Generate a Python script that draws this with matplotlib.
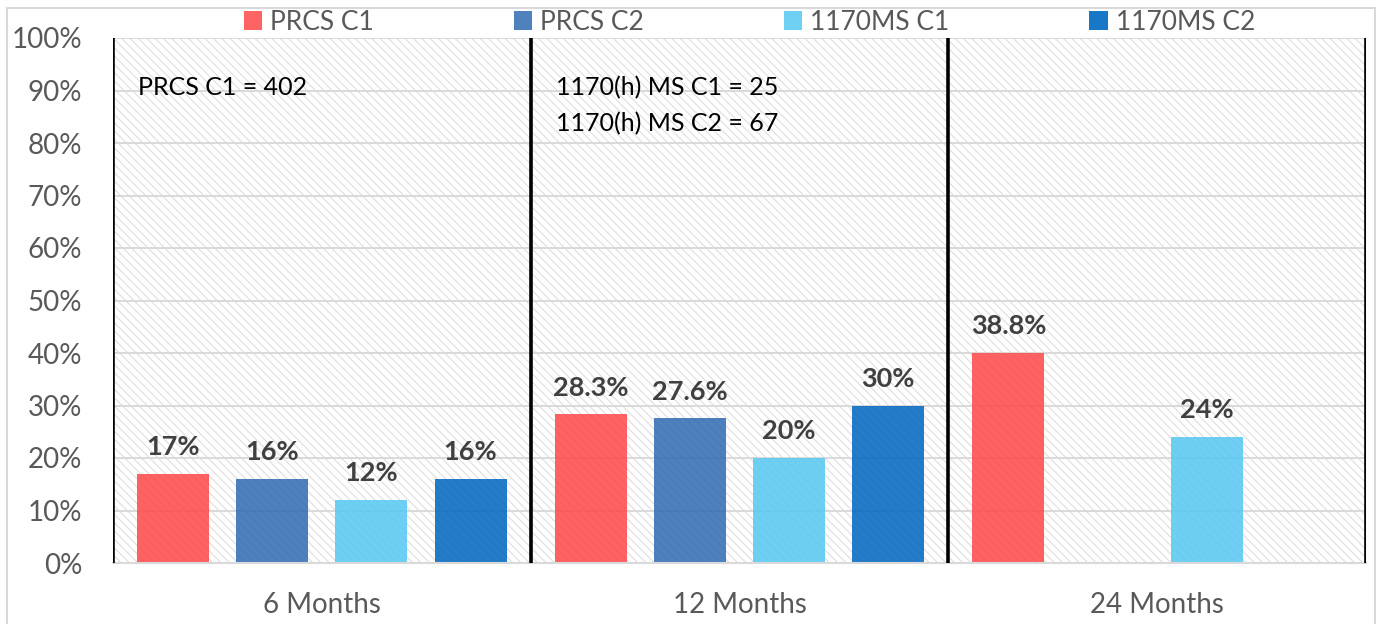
import matplotlib
matplotlib.use("Agg")
import matplotlib.pyplot as plt
from matplotlib.patches import Rectangle, Patch
import numpy as np

plt.rcParams['font.family'] = ['Lato', 'DejaVu Sans']
plt.rcParams['hatch.linewidth'] = 0.75

categories = ['6 Months', '12 Months', '24 Months']
series = ['PRCS C1', 'PRCS C2', '1170MS C1', '1170MS C2']
prcs_c1 = [17, 28.3, 40]
prcs_c2 = [16, 27.6, np.nan]
ms_c1 = [12, 20, 24]
ms_c2 = [16, 30, np.nan]
prcs_c1_labels = ['17%', '28.3%', '38.8%']
prcs_c2_labels = ['16%', '27.6%', '']
ms_c1_labels = ['12%', '20%', '24%']
ms_c2_labels = ['16%', '30%', '']
yticks = [0, 10, 20, 30, 40, 50, 60, 70, 80, 90, 100]
ytick_labels = ['0%', '10%', '20%', '30%', '40%', '50%', '60%', '70%', '80%', '90%', '100%']
note_left = 'PRCS C1 = 402'
note_mid = ['1170(h) MS C1 = 25', '1170(h) MS C2 = 67']

values = [prcs_c1, prcs_c2, ms_c1, ms_c2]
labels = [prcs_c1_labels, prcs_c2_labels, ms_c1_labels, ms_c2_labels]
colors = ['#FF4848', '#306BB2', '#56C8F1', '#0066BF']
legend_colors = ['#FF6464', '#4F81BD', '#6FD0F3', '#1878C6']
alpha = 0.86

W, H = 1382, 624
fig = plt.figure(figsize=(W / 100, H / 100), dpi=100)
ax = fig.add_axes([113 / W, (H - 563) / H, (1366 - 113) / W, (563 - 38) / H])

# figure frame
fig.patches.append(Rectangle((7 / W, -0.02), (1375 - 7) / W, (H - 8) / H + 0.02,
                             transform=fig.transFigure, fill=False,
                             edgecolor='#D9D9D9', linewidth=1.5, zorder=0))

ax.set_xlim(-0.5, 2.5)
ax.set_ylim(0, 100)

# hatched background
ax.add_patch(Rectangle((-0.5, 0), 3, 100, facecolor='white', edgecolor='#DCDCDC',
                       linewidth=0, hatch='\\\\\\\\', zorder=0.5))

for y in yticks:
    ax.axhline(y, color='#D9D9D9', linewidth=1.4, zorder=1)

for xv in [-0.5, 0.5, 1.5, 2.5]:
    ax.axvline(xv, color='black', linewidth=2.6, zorder=3)

x = np.arange(len(categories))
bw = 72 / 417
step = 99 / 417
offsets = [-1.5 * step, -0.5 * step, 0.5 * step, 1.5 * step]
for i in range(4):
    vals = np.array(values[i], dtype=float)
    ax.bar(x + offsets[i], vals, width=bw, color=colors[i], alpha=alpha,
           zorder=2, linewidth=0)
    for xi, v, lab in zip(x + offsets[i], vals, labels[i]):
        if np.isnan(v) or not lab:
            continue
        ax.annotate(lab, (xi, v), xytext=(0, 10.5), textcoords='offset points',
                    ha='center', va='bottom', fontsize=19.5, fontweight='bold',
                    color='#404040', zorder=4)

ax.text(-0.5 + 25 / 417, 90.5, note_left, fontsize=18, color='black',
        ha='left', va='center', zorder=4)
ax.text(0.5 + 25 / 417, 90.5, note_mid[0], fontsize=18, color='black',
        ha='left', va='center', zorder=4)
ax.text(0.5 + 25 / 417, 83.6, note_mid[1], fontsize=18, color='black',
        ha='left', va='center', zorder=4)

ax.set_yticks(yticks)
ax.set_yticklabels(ytick_labels)
ax.set_xticks(x)
ax.set_xticklabels(categories)
ax.tick_params(axis='both', length=0, labelsize=20, colors='#595959')
ax.tick_params(axis='y', pad=22)
ax.tick_params(axis='x', pad=21)
for s in ['top', 'right', 'left']:
    ax.spines[s].set_visible(False)
ax.spines['bottom'].set_color('#D9D9D9')
ax.spines['bottom'].set_linewidth(1.5)

handles = [Patch(facecolor=c, edgecolor='none') for c in legend_colors]
leg = fig.legend(handles, series, loc='center', bbox_to_anchor=(749.5 / W, 1 - 22 / H),
                 ncol=4, frameon=False, fontsize=19, handlelength=0.7, handleheight=0.7,
                 handletextpad=0.3, columnspacing=5.3, labelcolor='#595959',
                 borderpad=0, borderaxespad=0)

fig.savefig('out.png', dpi=100)
